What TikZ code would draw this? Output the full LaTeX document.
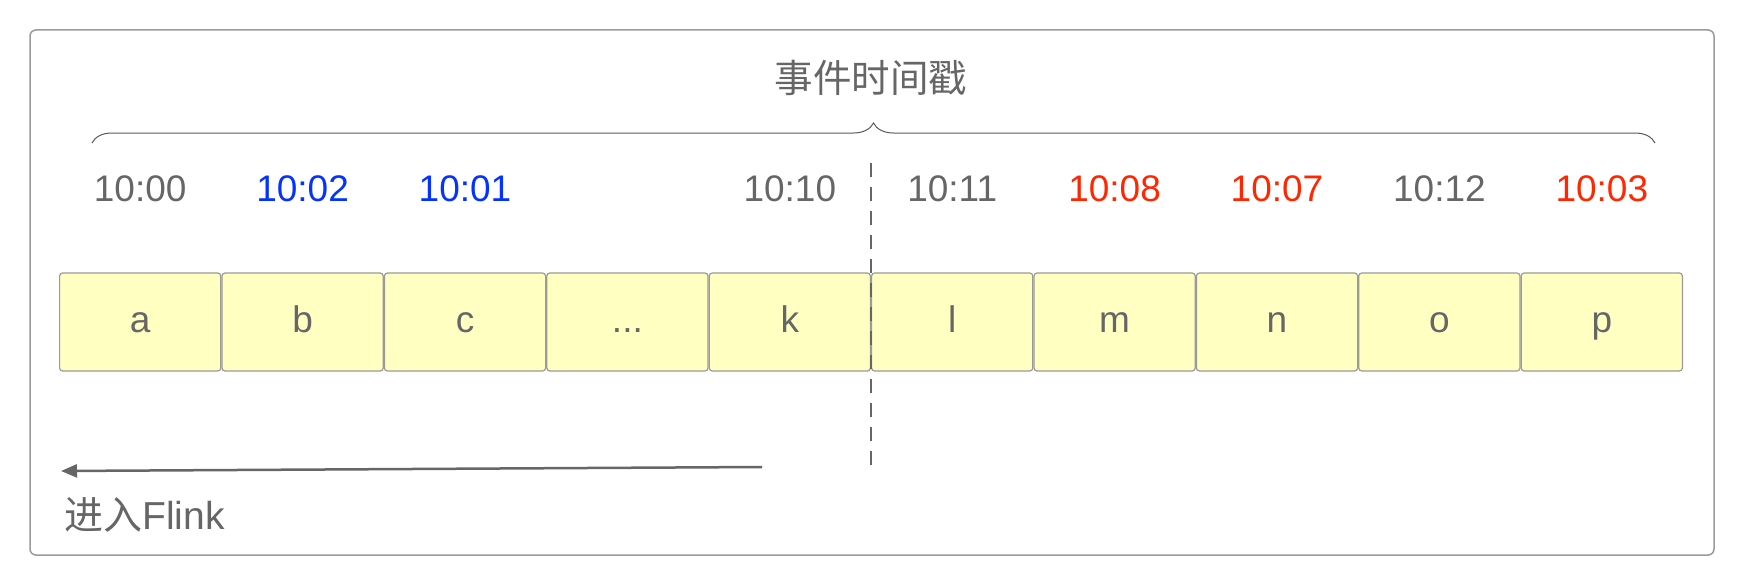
\documentclass[tikz,border=0pt]{standalone}
\usepackage{fontspec}
\setmainfont{Liberation Sans}
\newfontfamily\cjk{Noto Sans CJK SC}
\usetikzlibrary{positioning,decorations.pathreplacing,arrows.meta}

\definecolor{txtgray}{HTML}{666666}
\definecolor{linegray}{HTML}{9A9A9A}
\definecolor{evfill}{HTML}{FFFFC2}
\definecolor{lateblue}{HTML}{0433FF}
\definecolor{latered}{HTML}{FF2600}

\begin{document}
\begin{tikzpicture}[x=1pt,y=1pt,
    event/.style={draw=linegray, line width=1.2pt, fill=evfill, rounded corners=3pt,
      minimum width=161.2pt, minimum height=98pt, inner sep=0pt,
      text height=20pt, text depth=0pt,
      font=\fontsize{37}{40}\selectfont, text=txtgray},
    stamp/.style={font=\fontsize{37}{40}\selectfont, text=txtgray, inner sep=0pt},
    ]
    \useasboundingbox (0,0) rectangle (1745,-586);
    \draw[linegray, line width=1.5pt, rounded corners=6pt] (30,-30) rectangle (1714,-555);

    % the events as they arrive
    \node[event] (a) at (140.2,-322) {a};
    \node[event, right=0pt of a] (b) {b};
    \node[event, right=0pt of b] (c) {c};
    \node[event, right=0pt of c] (dots) {...};
    \node[event, right=0pt of dots] (k) {k};
    \node[event, right=0pt of k] (l) {l};
    \node[event, right=0pt of l] (m) {m};
    \node[event, right=0pt of m] (n) {n};
    \node[event, right=0pt of n] (o) {o};
    \node[event, right=0pt of o] (p) {p};

    % event time stamps
    \coordinate (row) at (0,-189);
    \node[stamp] (ta) at (a |- row) {10:00};
    \node[stamp, text=lateblue] (tb) at (b |- row) {10:02};
    \node[stamp, text=lateblue] (tc) at (c |- row) {10:01};
    \node[stamp] (tk) at (k |- row) {10:10};
    \node[stamp] (tl) at (l |- row) {10:11};
    \node[stamp, text=latered] (tm) at (m |- row) {10:08};
    \node[stamp, text=latered] (tn) at (n |- row) {10:07};
    \node[stamp] (to) at (o |- row) {10:12};
    \node[stamp, text=latered] (tp) at (p |- row) {10:03};

    \node[stamp, font=\fontsize{38.5}{42}\selectfont] (title) at (871,-78) {\cjk 事件时间戳};
    \coordinate (bl) at (92,-143);
    \coordinate (br) at (1655,-143);
    \draw[decorate, decoration={brace, amplitude=20pt}, line width=1pt, black!65] (bl) -- (br);

    % watermark cut
    \coordinate (cuttop) at (k.east |- 0,-163);
    \coordinate (cutbot) at (k.east |- 0,-467);
    \draw[txtgray, line width=2.5pt, dash pattern=on 14pt off 10pt] (cuttop) -- (cutbot);

    % direction into Flink
    \coordinate (flowstart) at (762,-467);
    \coordinate (flowend) at (61,-471);
    \draw[txtgray, line width=2.5pt, -{Triangle[length=16pt,width=13pt]}] (flowstart) -- (flowend);
    \node[stamp, anchor=west, font=\fontsize{39}{42}\selectfont] (enter) at (64,-515) {\cjk 进入\rmfamily Flink};
\end{tikzpicture}
\end{document}
